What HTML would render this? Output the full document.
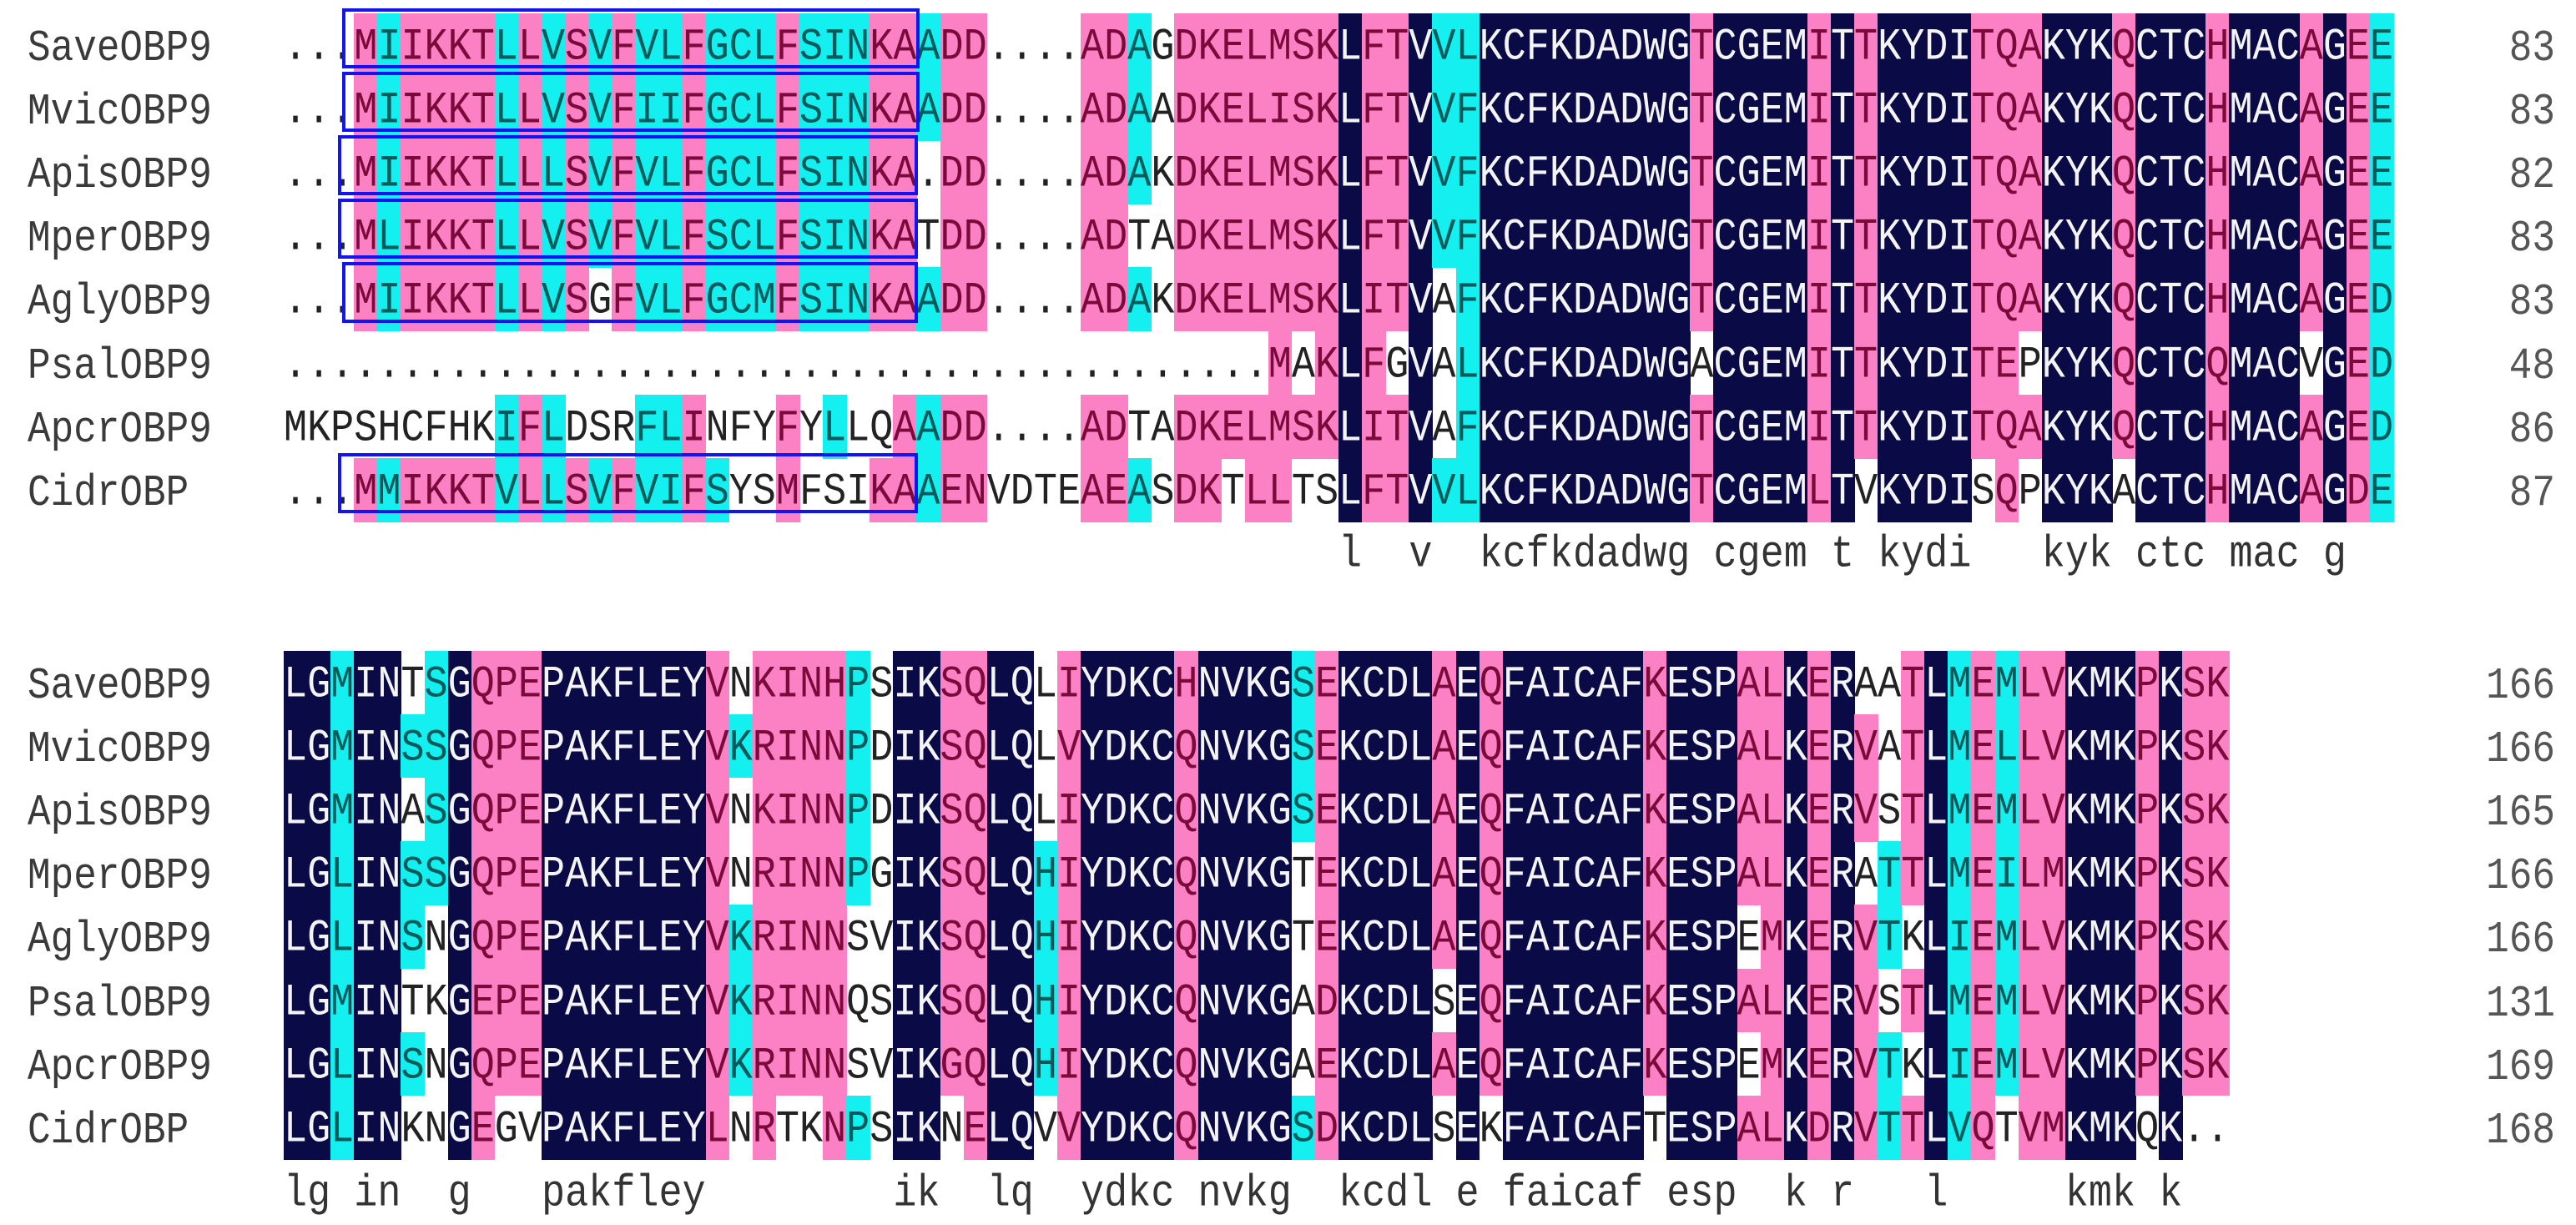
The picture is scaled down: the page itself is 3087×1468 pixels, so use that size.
<!DOCTYPE html>
<html><head><meta charset="utf-8">
<style>
html,body{margin:0;padding:0;background:#fff;}
#c{position:relative;width:3087px;height:1468px;overflow:hidden;background:#fff;font-family:"Liberation Mono","DejaVu Sans Mono",monospace;}
.bg{position:absolute;}
.t{position:absolute;width:28.09px;text-align:center;font-size:46.8px;line-height:76.2px;height:76.2px;transform:translateY(4px) scaleY(1.15);white-space:pre;}
.nm{position:absolute;font-size:46px;line-height:76.2px;height:76.2px;color:#3a3a3a;transform:translateY(4px) scaleY(1.15);white-space:pre;}
.num{position:absolute;font-size:46px;line-height:76.2px;height:76.2px;color:#555;text-align:right;width:200px;transform:translateY(4px) scaleY(1.15);}
.box{position:absolute;border:4px solid #1414f0;box-sizing:border-box;}
</style></head><body><div id="c"></div>
<script>
var names=["SaveOBP9","MvicOBP9","ApisOBP9","MperOBP9","AglyOBP9","PsalOBP9","ApcrOBP9","CidrOBP"];
var top1=[
"...MIIKKTLLVSVFVLFGCLFSINKAADD....ADAGDKELMSKLFTVVLKCFKDADWGTCGEMITTKYDITQAKYKQCTCHMACAGEE",
"...MIIKKTLLVSVFIIFGCLFSINKAADD....ADAADKELISKLFTVVFKCFKDADWGTCGEMITTKYDITQAKYKQCTCHMACAGEE",
"...MIIKKTLLLSVFVLFGCLFSINKA.DD....ADAKDKELMSKLFTVVFKCFKDADWGTCGEMITTKYDITQAKYKQCTCHMACAGEE",
"...MLIKKTLLVSVFVLFSCLFSINKATDD....ADTADKELMSKLFTVVFKCFKDADWGTCGEMITTKYDITQAKYKQCTCHMACAGEE",
"...MIIKKTLLVSGFVLFGCMFSINKAADD....ADAKDKELMSKLITVAFKCFKDADWGTCGEMITTKYDITQAKYKQCTCHMACAGED",
"..........................................MAKLFGVALKCFKDADWGACGEMITTKYDITEPKYKQCTCQMACVGED",
"MKPSHCFHKIFLDSRFLINFYFYLLQAADD....ADTADKELMSKLITVAFKCFKDADWGTCGEMITTKYDITQAKYKQCTCHMACAGED",
"...MMIKKTVLLSVFVIFSYSMFSIKAAENVDTEAEASDKTLLTSLFTVVLKCFKDADWGTCGEMLTVKYDISQPKYKACTCHMACAGDE"];
var bot=[
"LGMINTSGQPEPAKFLEYVNKINHPSIKSQLQLIYDKCHNVKGSEKCDLAEQFAICAFKESPALKERAATLMEMLVKMKPKSK",
"LGMINSSGQPEPAKFLEYVKRINNPDIKSQLQLVYDKCQNVKGSEKCDLAEQFAICAFKESPALKERVATLMELLVKMKPKSK",
"LGMINASGQPEPAKFLEYVNKINNPDIKSQLQLIYDKCQNVKGSEKCDLAEQFAICAFKESPALKERVSTLMEMLVKMKPKSK",
"LGLINSSGQPEPAKFLEYVNRINNPGIKSQLQHIYDKCQNVKGTEKCDLAEQFAICAFKESPALKERATTLMEILMKMKPKSK",
"LGLINSNGQPEPAKFLEYVKRINNSVIKSQLQHIYDKCQNVKGTEKCDLAEQFAICAFKESPEMKERVTKLIEMLVKMKPKSK",
"LGMINTKGEPEPAKFLEYVKRINNQSIKSQLQHIYDKCQNVKGADKCDLSEQFAICAFKESPALKERVSTLMEMLVKMKPKSK",
"LGLINSNGQPEPAKFLEYVKRINNSVIKGQLQHIYDKCQNVKGAEKCDLAEQFAICAFKESPEMKERVTKLIEMLVKMKPKSK",
"LGLINKNGEGVPAKFLEYLNRTKNPSIKNELQVVYDKCQNVKGSDKCDLSEKFAICAFTESPALKDRVTTLVQTVMKMKQK.."];
var n1=["83","83","82","83","83","48","86","87"],n2=["166","166","165","166","166","131","169","168"];
var X0=340,P=28.09,RH=76.2;
var groups=["ILVMF","DENQ","KR","GS","HNQ"];
function sim(a,b){if(a==b)return true;for(var g of groups){if(g.indexOf(a)>=0&&g.indexOf(b)>=0)return true;}return false;}
var C=document.getElementById('c');var h='';
function block(seqs,y0,nums,consY){
  var L=seqs[0].length;
  for(var r=0;r<8;r++){
    var y=y0+r*RH;
    h+='<div class="nm" style="left:33px;top:'+y+'px">'+names[r]+'</div>';
    h+='<div class="num" style="left:2862px;top:'+y+'px">'+nums[r]+'</div>';
  }
  for(var i=0;i<L;i++){
    var cnt={};for(var r=0;r<8;r++){var ch=seqs[r][i];if(ch!='.')cnt[ch]=(cnt[ch]||0)+1;}
    var best=null,bc=0;Object.keys(cnt).sort().forEach(function(k){if(cnt[k]>bc){bc=cnt[k];best=k;}});
    var lvl=bc==8?3:bc>=6?2:bc>=4?1:0;
    var x=X0+i*P;
    for(var r=0;r<8;r++){
      var ch=seqs[r][i];var y=y0+r*RH;var bgc=null,fc='#222';
      if(ch!='.'&&lvl>0&&sim(ch,best)){
        if(lvl==3){bgc='#0a0a46';fc='#f4f4f4';}
        else if(lvl==2){bgc='#fb80c4';fc='#7a0a3a';}
        else {bgc='#14f0f0';fc='#045a5a';}
      }
      if(bgc)h+='<div class="bg" style="left:'+x.toFixed(2)+'px;top:'+y.toFixed(2)+'px;width:'+(P+0.6).toFixed(2)+'px;height:'+(RH+0.6).toFixed(2)+'px;background:'+bgc+'"></div>';
      h+='<div class="t" style="left:'+x.toFixed(2)+'px;top:'+y.toFixed(2)+'px;color:'+fc+'">'+ch+'</div>';
    }
    if(lvl==3)h+='<div class="t" style="left:'+x.toFixed(2)+'px;top:'+consY+'px;color:#333">'+best.toLowerCase()+'</div>';
  }
}
block(top1,15.6,n1,624);
block(bot,779.5,n2,1390);
var bx=[[0,410,1102],[1,410,1102],[2,405,1100],[3,405,1100],[4,410,1100],[7,405,1100]];
bx.forEach(function(b){var y=15.6+b[0]*RH;h+='<div class="box" style="left:'+b[1]+'px;top:'+(y-6).toFixed(1)+'px;width:'+(b[2]-b[1])+'px;height:'+(RH-4)+'px"></div>';});
C.innerHTML=h;
</script></body></html>
